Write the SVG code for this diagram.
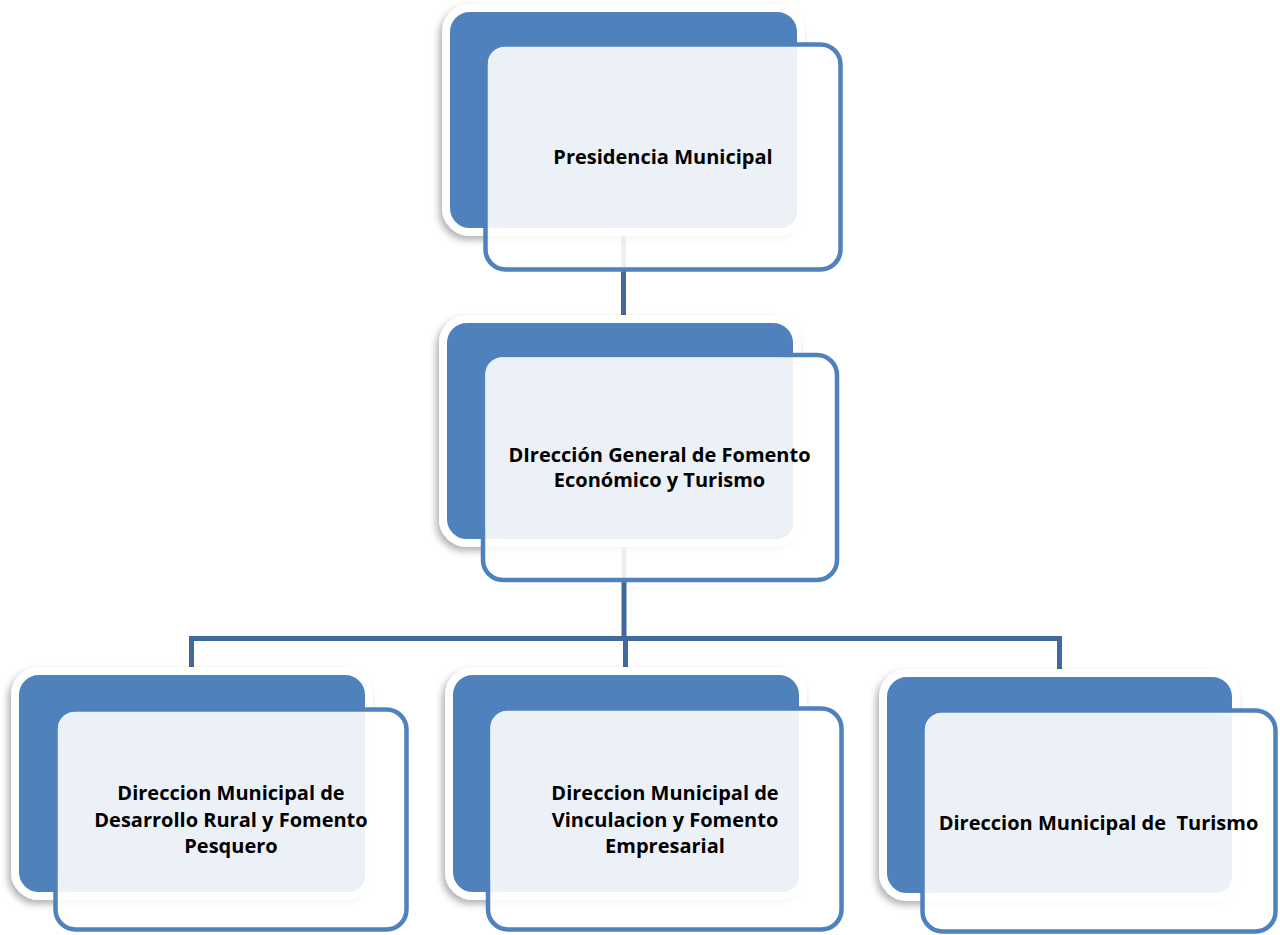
<svg xmlns="http://www.w3.org/2000/svg" width="1280" height="935" viewBox="0 0 1280 935">
<style>
.back{fill:#4F81BD;stroke:#FFFFFF;stroke-width:8;filter:url(#sh)}
.frame{fill:#FFFFFF;fill-opacity:0.9;stroke:#4F81BD;stroke-width:4.5}
.face{fill:#ECF1F8}
.conn{fill:none;stroke:#3F6A99;stroke-width:5;stroke-linejoin:miter}
text{font-family:"Open Sans","Liberation Sans",sans-serif;font-weight:700;font-size:20px;fill:#000000;text-anchor:middle}
</style>
<defs>
<filter id="sh" x="-10%" y="-10%" width="120%" height="125%">
<feDropShadow dx="-3" dy="4" stdDeviation="3.5" flood-color="#000000" flood-opacity="0.3"/>
</filter>
</defs>
<rect width="1280" height="935" fill="#FFFFFF"/>
<g id="connectors">
<path class="conn" d="M623.5 228 V323"/>
<path class="conn" d="M624 539 V640"/>
<path class="conn" d="M191.5 675 V638.5 H1059.5 V677"/>
<path class="conn" d="M625.5 638.5 V675"/>
</g>
<g id="node-presidencia">
<rect class="back" x="446" y="8" width="355" height="224" rx="24"/>
<rect class="frame" x="485.5" y="44.5" width="355" height="225" rx="20"/>
<rect class="face" x="488" y="47" width="309" height="181" rx="16"/>
<text x="663" y="164">Presidencia Municipal</text>
</g>
<g id="node-direccion-general">
<rect class="back" x="443" y="319" width="354" height="224" rx="24"/>
<rect class="frame" x="483" y="355" width="354" height="225" rx="20"/>
<rect class="face" x="485.5" y="357.5" width="307.5" height="181.5" rx="16"/>
<text x="659.5" y="462">DIrección General de Fomento</text>
<text x="659.5" y="486.7">Económico y Turismo</text>
</g>
<g id="node-desarrollo-rural">
<rect class="back" x="15" y="671" width="354" height="225" rx="24"/>
<rect class="frame" x="55.5" y="709.5" width="351" height="220" rx="20"/>
<rect class="face" x="58" y="712" width="307" height="180" rx="16"/>
<text x="231" y="800">Direccion Municipal de</text>
<text x="231" y="826.7">Desarrollo Rural y Fomento</text>
<text x="231" y="853">Pesquero</text>
</g>
<g id="node-vinculacion">
<rect class="back" x="449" y="671" width="354" height="225" rx="24"/>
<rect class="frame" x="488" y="708.5" width="353.5" height="221" rx="20"/>
<rect class="face" x="490.5" y="711" width="308.5" height="181" rx="16"/>
<text x="665" y="800">Direccion Municipal de</text>
<text x="665" y="826.7">Vinculacion y Fomento</text>
<text x="665" y="853">Empresarial</text>
</g>
<g id="node-turismo">
<rect class="back" x="883" y="673" width="353" height="224" rx="24"/>
<rect class="frame" x="922.5" y="710.5" width="353" height="221" rx="20"/>
<rect class="face" x="925" y="713" width="307" height="180" rx="16"/>
<text x="1098.5" y="830" xml:space="preserve">Direccion Municipal de  Turismo</text>
</g>
</svg>
